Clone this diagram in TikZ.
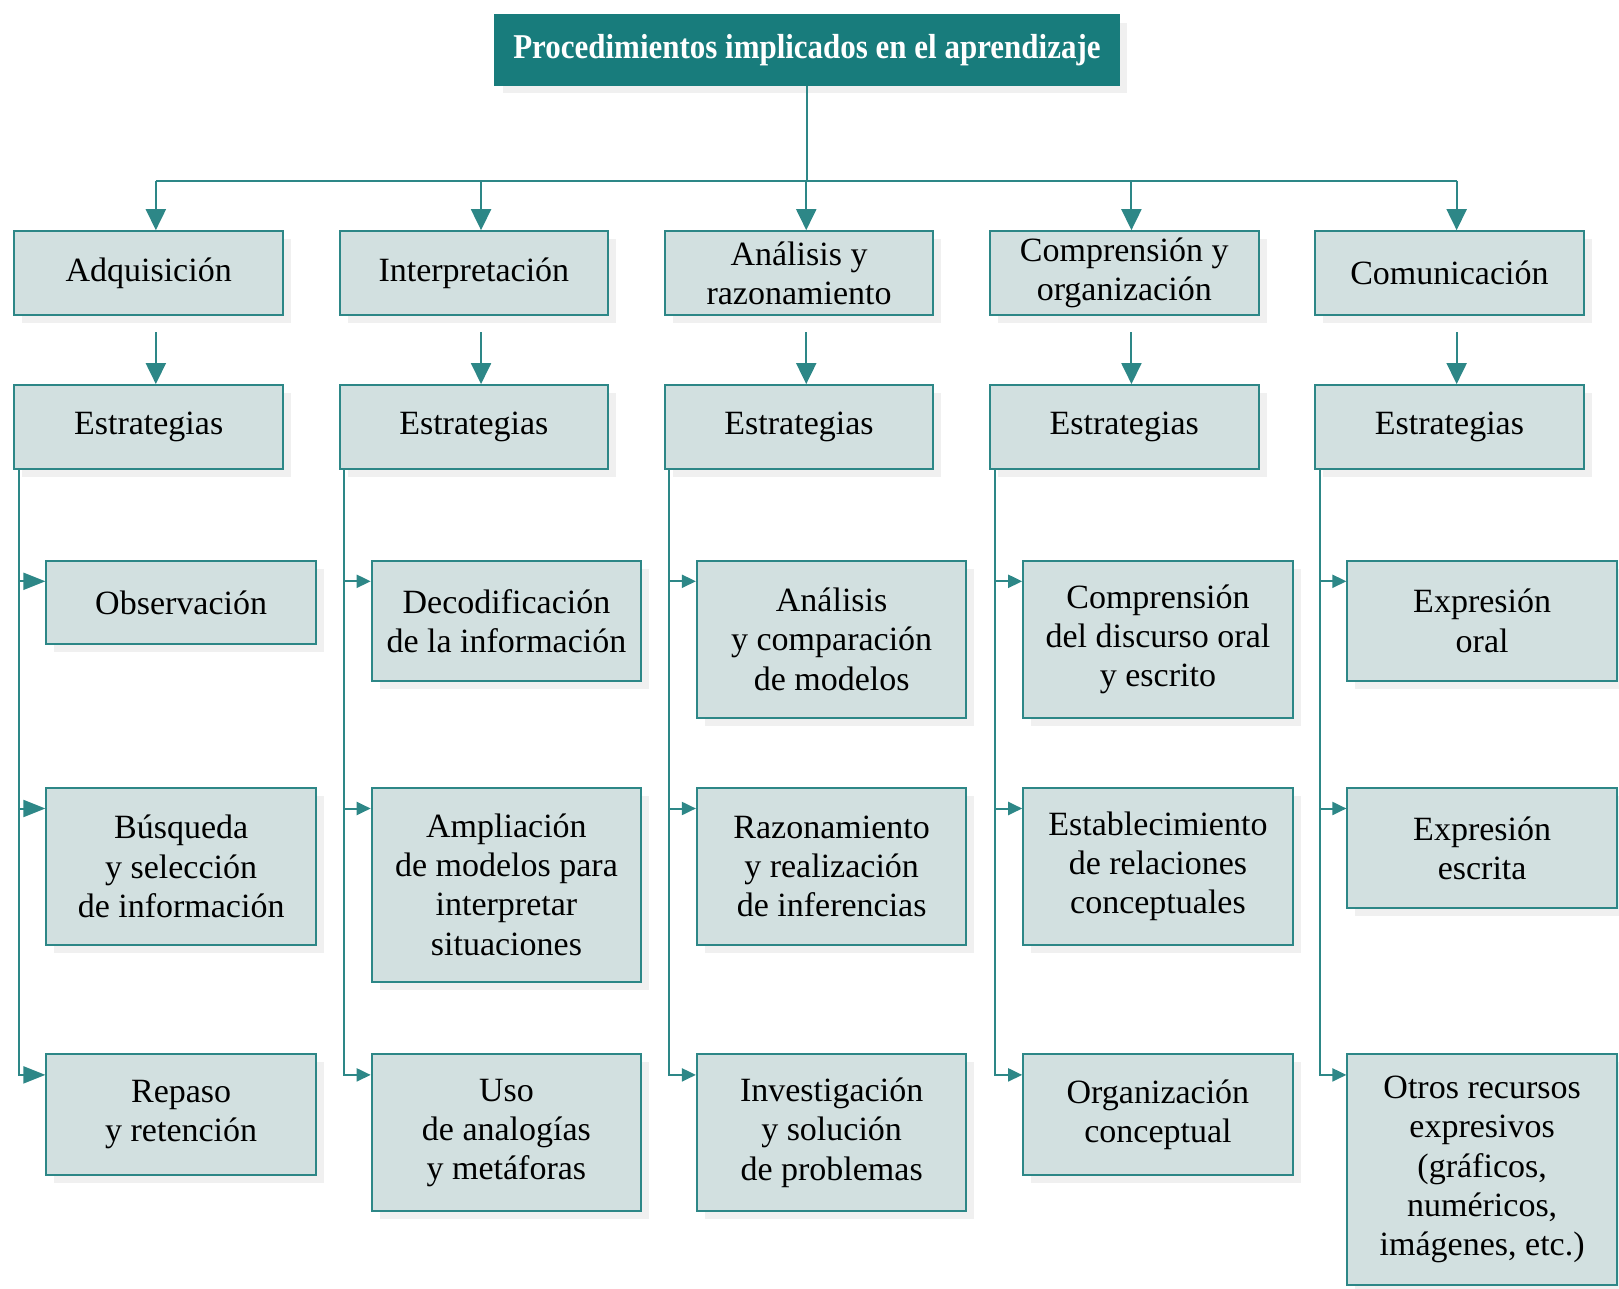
\documentclass[tikz,border=0pt]{standalone}
\usepackage{fontspec}
\setmainfont{Liberation Serif}
\usetikzlibrary{arrows.meta,shadows}
\definecolor{verde}{RGB}{24,124,124}
\definecolor{borde}{RGB}{45,135,135}
\definecolor{relleno}{RGB}{210,224,224}

\begin{document}
\begin{tikzpicture}[x=0.5pt,y=-0.5pt,
    caja/.style={draw=borde, line width=1pt, fill=relleno, align=center, inner sep=0pt,
      drop shadow={shadow xshift=4pt, shadow yshift=-4pt, fill=black, opacity=0.06},
      font=\fontsize{17}{19.6}\selectfont},
    area/.style={caja, minimum width=134.25pt, minimum height=41.85pt},
    tarea/.style={caja, anchor=north west, minimum width=134.75pt, minimum height=23.5pt+#1*18.35pt},
    linea/.style={draw=borde, line width=1pt},
    flecha/.style={linea, -{Triangle[length=10.5pt,width=10pt]}},
    flechag/.style={linea, -{Triangle[length=11pt,width=8.5pt]}},
    flechac/.style={linea, -{Triangle[length=7pt,width=6.5pt]}}]
    \useasboundingbox (0,0) rectangle (1619,1289);

    % titulo
    \node[caja, fill=verde, draw=verde, text=white, anchor=north west, minimum width=312.4pt,
      minimum height=34.6pt, font=\fontsize{17.4}{20}\selectfont\bfseries] (titulo) at (493.5,14.5)
      {\scalebox{0.89}[1]{Procedimientos implicados en el aprendizaje}};

    % primer nivel
    \node[area, anchor=north west] (a1) at (13.4,230.2) {Adquisición};
    \node[area, right=27.35pt] at (a1.east) (a2) {Interpretación};
    \node[area, right=27.35pt] at (a2.east) (a3) {Análisis y\\razonamiento};
    \node[area, right=27.35pt] at (a3.east) (a4) {Comprensión y\\organización};
    \node[area, right=27.35pt] at (a4.east) (a5) {Comunicación};

    % estrategias
    \node[area, below=34.1pt] at (a1.south) (e1) {Estrategias};
    \node[area, below=34.1pt] at (a2.south) (e2) {Estrategias};
    \node[area, below=34.1pt] at (a3.south) (e3) {Estrategias};
    \node[area, below=34.1pt] at (a4.south) (e4) {Estrategias};
    \node[area, below=34.1pt] at (a5.south) (e5) {Estrategias};

    % adquisicion
    \node[tarea=1] (t11) at (45.4,559.6) {Observación};
    \node[tarea=3] (t12) at (45.4,786.8) {Búsqueda\\y selección\\de información};
    \node[tarea=2] (t13) at (45.4,1053.2) {Repaso\\y retención};
    % interpretacion
    \node[tarea=2] (t21) at (370.7,559.6) {Decodificación\\de la información};
    \node[tarea=4] (t22) at (370.7,786.8) {Ampliación\\de modelos para\\interpretar\\situaciones};
    \node[tarea=3] (t23) at (370.7,1053.2) {Uso\\de analogías\\y metáforas};
    % analisis
    \node[tarea=3] (t31) at (695.9,559.6) {Análisis\\y comparación\\de modelos};
    \node[tarea=3] (t32) at (695.9,786.8) {Razonamiento\\y realización\\de inferencias};
    \node[tarea=3] (t33) at (695.9,1053.2) {Investigación\\y solución\\de problemas};
    % comprension
    \node[tarea=3] (t41) at (1022.2,559.6) {Comprensión\\del discurso oral\\y escrito};
    \node[tarea=3] (t42) at (1022.2,786.8) {Establecimiento\\de relaciones\\conceptuales};
    \node[tarea=2] (t43) at (1022.2,1053.2) {Organización\\conceptual};
    % comunicacion
    \node[tarea=2] (t51) at (1346.4,559.6) {Expresión\\oral};
    \node[tarea=2] (t52) at (1346.4,786.8) {Expresión\\escrita};
    \node[tarea=5] (t53) at (1346.4,1053.2) {Otros recursos\\expresivos\\(gráficos,\\numéricos,\\imágenes, etc.)};

    % conectores
    \coordinate (bus) at (0,180.7);
    \coordinate (p1) at ([xshift=3.6pt]a1.north);
    \coordinate (p2) at ([xshift=3.6pt]a2.north);
    \coordinate (p3) at ([xshift=3.6pt]a3.north);
    \coordinate (p4) at ([xshift=3.6pt]a4.north);
    \coordinate (p5) at ([xshift=3.6pt]a5.north);
    \draw[linea] (titulo.south) -- (titulo.south |- bus);
    \draw[linea] (p1 |- bus) -- (p5 |- bus);
    \draw[flecha] (p1 |- bus) -- (p1);
    \draw[flecha] (p2 |- bus) -- (p2);
    \draw[flecha] (p3 |- bus) -- (p3);
    \draw[flecha] (p4 |- bus) -- (p4);
    \draw[flecha] (p5 |- bus) -- (p5);

    \draw[flecha] ([xshift=3.6pt,yshift=-8.3pt]a1.south) -- ([xshift=3.6pt]e1.north);
    \draw[flecha] ([xshift=3.6pt,yshift=-8.3pt]a2.south) -- ([xshift=3.6pt]e2.north);
    \draw[flecha] ([xshift=3.6pt,yshift=-8.3pt]a3.south) -- ([xshift=3.6pt]e3.north);
    \draw[flecha] ([xshift=3.6pt,yshift=-8.3pt]a4.south) -- ([xshift=3.6pt]e4.north);
    \draw[flecha] ([xshift=3.6pt,yshift=-8.3pt]a5.south) -- ([xshift=3.6pt]e5.north);

    \draw[flechag] ([xshift=2.75pt]e1.south west) |- ([yshift=-10.85pt]t11.north west);
    \draw[flechag] ([xshift=2.75pt]e1.south west) |- ([yshift=-10.85pt]t12.north west);
    \draw[flechag] ([xshift=2.75pt]e1.south west) |- ([yshift=-10.85pt]t13.north west);
    \draw[flechac] ([xshift=2.75pt]e2.south west) |- ([yshift=-10.85pt]t21.north west);
    \draw[flechac] ([xshift=2.75pt]e2.south west) |- ([yshift=-10.85pt]t22.north west);
    \draw[flechac] ([xshift=2.75pt]e2.south west) |- ([yshift=-10.85pt]t23.north west);
    \draw[flechac] ([xshift=2.75pt]e3.south west) |- ([yshift=-10.85pt]t31.north west);
    \draw[flechac] ([xshift=2.75pt]e3.south west) |- ([yshift=-10.85pt]t32.north west);
    \draw[flechac] ([xshift=2.75pt]e3.south west) |- ([yshift=-10.85pt]t33.north west);
    \draw[flechac] ([xshift=2.75pt]e4.south west) |- ([yshift=-10.85pt]t41.north west);
    \draw[flechac] ([xshift=2.75pt]e4.south west) |- ([yshift=-10.85pt]t42.north west);
    \draw[flechac] ([xshift=2.75pt]e4.south west) |- ([yshift=-10.85pt]t43.north west);
    \draw[flechac] ([xshift=2.75pt]e5.south west) |- ([yshift=-10.85pt]t51.north west);
    \draw[flechac] ([xshift=2.75pt]e5.south west) |- ([yshift=-10.85pt]t52.north west);
    \draw[flechac] ([xshift=2.75pt]e5.south west) |- ([yshift=-10.85pt]t53.north west);
  \end{tikzpicture}
\end{document}
